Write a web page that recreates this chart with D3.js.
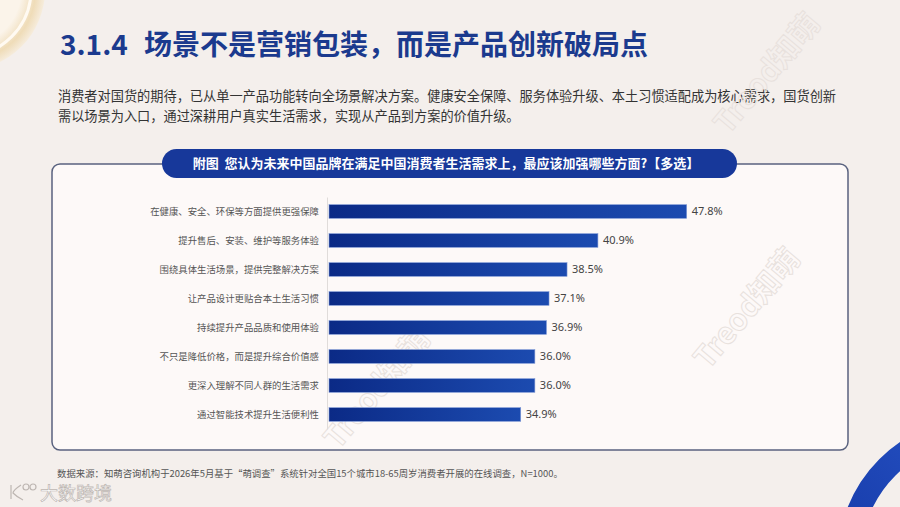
<!DOCTYPE html>
<html>
<head>
<meta charset="utf-8">
<script src="https://cdn.jsdelivr.net/npm/d3@7"></script>
<style>
  html, body { margin: 0; padding: 0; background: #f4efec; }
  svg { display: block; font-family: "Noto Sans CJK SC", "Noto Sans", sans-serif; }
</style>
</head>
<body>
<script>
// chart data
const categories = [
    '在健康、安全、环保等方面提供更强保障',
    '提升售后、安装、维护等服务体验',
    '围绕具体生活场景，提供完整解决方案',
    '让产品设计更贴合本土生活习惯',
    '持续提升产品品质和使用体验',
    '不只是降低价格，而是提升综合价值感',
    '更深入理解不同人群的生活需求',
    '通过智能技术提升生活便利性'
];
const values = [47.8, 40.9, 38.5, 37.1, 36.9, 36.0, 36.0, 34.9];

const titleNum = '3.1.4';
const titleText = '场景不是营销包装，而是产品创新破局点';
const introLines = [
    '消费者对国货的期待，已从单一产品功能转向全场景解决方案。健康安全保障、服务体验升级、本土习惯适配成为核心需求，国货创新',
    '需以场景为入口，通过深耕用户真实生活需求，实现从产品到方案的价值升级。'
];
const chartTitle = '附图  您认为未来中国品牌在满足中国消费者生活需求上，最应该加强哪些方面?【多选】';
const sourceText = '数据来源：知萌咨询机构于2026年5月基于“萌调查”系统针对全国15个城市18-65周岁消费者开展的在线调查，N=1000。';

const W = 900, H = 507;

const svg = d3.select('body').append('svg')
    .attr('width', W)
    .attr('height', H);

const defs = svg.append('defs');

// gradients
const barGrad = defs.append('linearGradient').attr('id', 'barGrad')
    .attr('x1', '0%').attr('x2', '100%').attr('y1', '0%').attr('y2', '0%');
barGrad.append('stop').attr('offset', '0%').attr('stop-color', '#0b2a86');
barGrad.append('stop').attr('offset', '100%').attr('stop-color', '#1c4bb0');

const goldGrad = defs.append('radialGradient').attr('id', 'goldGrad');
goldGrad.append('stop').attr('offset', '70%').attr('stop-color', '#fbf4ea');
goldGrad.append('stop').attr('offset', '88%').attr('stop-color', '#efdcb8');
goldGrad.append('stop').attr('offset', '100%').attr('stop-color', '#f6ecdc');

const ringGrad = defs.append('linearGradient').attr('id', 'ringGrad')
    .attr('x1', '0%').attr('x2', '100%').attr('y1', '100%').attr('y2', '0%');
ringGrad.append('stop').attr('offset', '0%').attr('stop-color', '#0e2f9c');
ringGrad.append('stop').attr('offset', '100%').attr('stop-color', '#2f5fd2');

// background
svg.append('rect').attr('width', W).attr('height', H).attr('fill', '#f4efec');

// top-left gold ornament
svg.append('circle')
    .attr('cx', -35).attr('cy', -10).attr('r', 80)
    .attr('fill', 'url(#goldGrad)');
svg.append('circle')
    .attr('cx', -35).attr('cy', -10).attr('r', 66)
    .attr('fill', 'none')
    .attr('stroke', '#fffaf2').attr('stroke-width', 3);

// bottom-right blue ring
svg.append('circle')
    .attr('cx', 980).attr('cy', 560).attr('r', 131)
    .attr('fill', 'none')
    .attr('stroke', 'url(#ringGrad)').attr('stroke-width', 23);

// title
svg.append('text')
    .attr('x', 60).attr('y', 55)
    .attr('font-size', 28)
    .attr('font-weight', 700)
    .attr('fill', '#1b3a8e')
    .text(titleNum);
svg.append('text')
    .attr('x', 144).attr('y', 55)
    .attr('font-size', 28)
    .attr('font-weight', 700)
    .attr('fill', '#1b3a8e')
    .text(titleText);

// intro paragraph
svg.append('g').selectAll('text')
    .data(introLines)
    .enter().append('text')
    .attr('x', 58)
    .attr('y', (d, i) => 101 + i * 20)
    .attr('font-size', 13.2)
    .attr('fill', '#333')
    .text(d => d);

// panel
svg.append('rect')
    .attr('x', 52).attr('y', 164)
    .attr('width', 796).attr('height', 286)
    .attr('rx', 8)
    .attr('fill', '#fdf9f8')
    .attr('stroke', '#59627f')
    .attr('stroke-width', 1.5);

// faint watermarks (over the panel, under the bars)
const marks = [[775, 80], [755, 315], [385, 395]];
svg.append('g').selectAll('text')
    .data(marks)
    .enter().append('text')
    .attr('transform', d => `translate(${d[0]},${d[1]}) rotate(-50)`)
    .attr('text-anchor', 'middle')
    .attr('font-size', 30)
    .attr('font-weight', 700)
    .attr('fill', 'none')
    .attr('stroke', '#e8e1dd')
    .attr('stroke-width', 1)
    .text('Treod知萌');

// header pill
svg.append('rect')
    .attr('x', 162).attr('y', 149)
    .attr('width', 575).attr('height', 29)
    .attr('rx', 14.5)
    .attr('fill', '#17389a');

svg.append('text')
    .attr('x', 446).attr('y', 168)
    .attr('text-anchor', 'middle')
    .attr('font-size', 13)
    .attr('font-weight', 700)
    .attr('fill', '#fff')
    .attr('xml:space', 'preserve')
    .text(chartTitle);

// scales
const x = d3.scaleLinear()
    .domain([20, 50])
    .range([329, 715]);

const y = d3.scaleBand()
    .domain(categories)
    .range([197, 429])
    .paddingInner(0.53)
    .paddingOuter(0.265);

// y axis with category labels
const yAxis = svg.append('g')
    .attr('transform', 'translate(327,0)')
    .call(d3.axisLeft(y).tickSize(0).tickPadding(8));
yAxis.select('.domain').attr('stroke', '#e0dcda').attr('stroke-width', 1);
yAxis.selectAll('text')
    .attr('font-family', '"Noto Sans CJK SC", sans-serif')
    .attr('font-size', 9.4)
    .attr('fill', '#555');

// bars
svg.append('g').selectAll('rect')
    .data(values)
    .enter().append('rect')
    .attr('x', x(20))
    .attr('y', (d, i) => y(categories[i]))
    .attr('width', d => x(d) - x(20))
    .attr('height', y.bandwidth())
    .attr('fill', 'url(#barGrad)')
    .attr('stroke', '#7f98d6')
    .attr('stroke-width', 0.6);

// value labels
svg.append('g').selectAll('text')
    .data(values)
    .enter().append('text')
    .attr('x', d => x(d) + 5)
    .attr('y', (d, i) => y(categories[i]) + y.bandwidth() / 2)
    .attr('dy', '0.36em')
    .attr('font-family', '"Noto Sans", sans-serif')
    .attr('font-size', 11)
    .attr('fill', '#444')
    .text(d => d.toFixed(1) + '%');

// source note
svg.append('text')
    .attr('x', 57).attr('y', 477)
    .attr('font-size', 9.4)
    .attr('fill', '#555')
    .text(sourceText);

// bottom-left account watermark
const wm = svg.append('g')
    .attr('transform', 'translate(9,483)')
    .attr('fill', 'none')
    .attr('stroke', '#bdb6b2')
    .attr('stroke-width', 1.2);
wm.append('path').attr('d', 'M2,2 L2,16 M12,2 C6,6 4,9 4,10 C6,12 10,15 14,17');
wm.append('circle').attr('cx', 17).attr('cy', 4).attr('r', 3);
wm.append('circle').attr('cx', 24).attr('cy', 4).attr('r', 3);
svg.append('text')
    .attr('x', 40).attr('y', 500)
    .attr('font-size', 18)
    .attr('fill', '#fff')
    .attr('stroke', '#bdb6b2')
    .attr('stroke-width', 0.7)
    .text('大数跨境');
</script>
</body>
</html>
